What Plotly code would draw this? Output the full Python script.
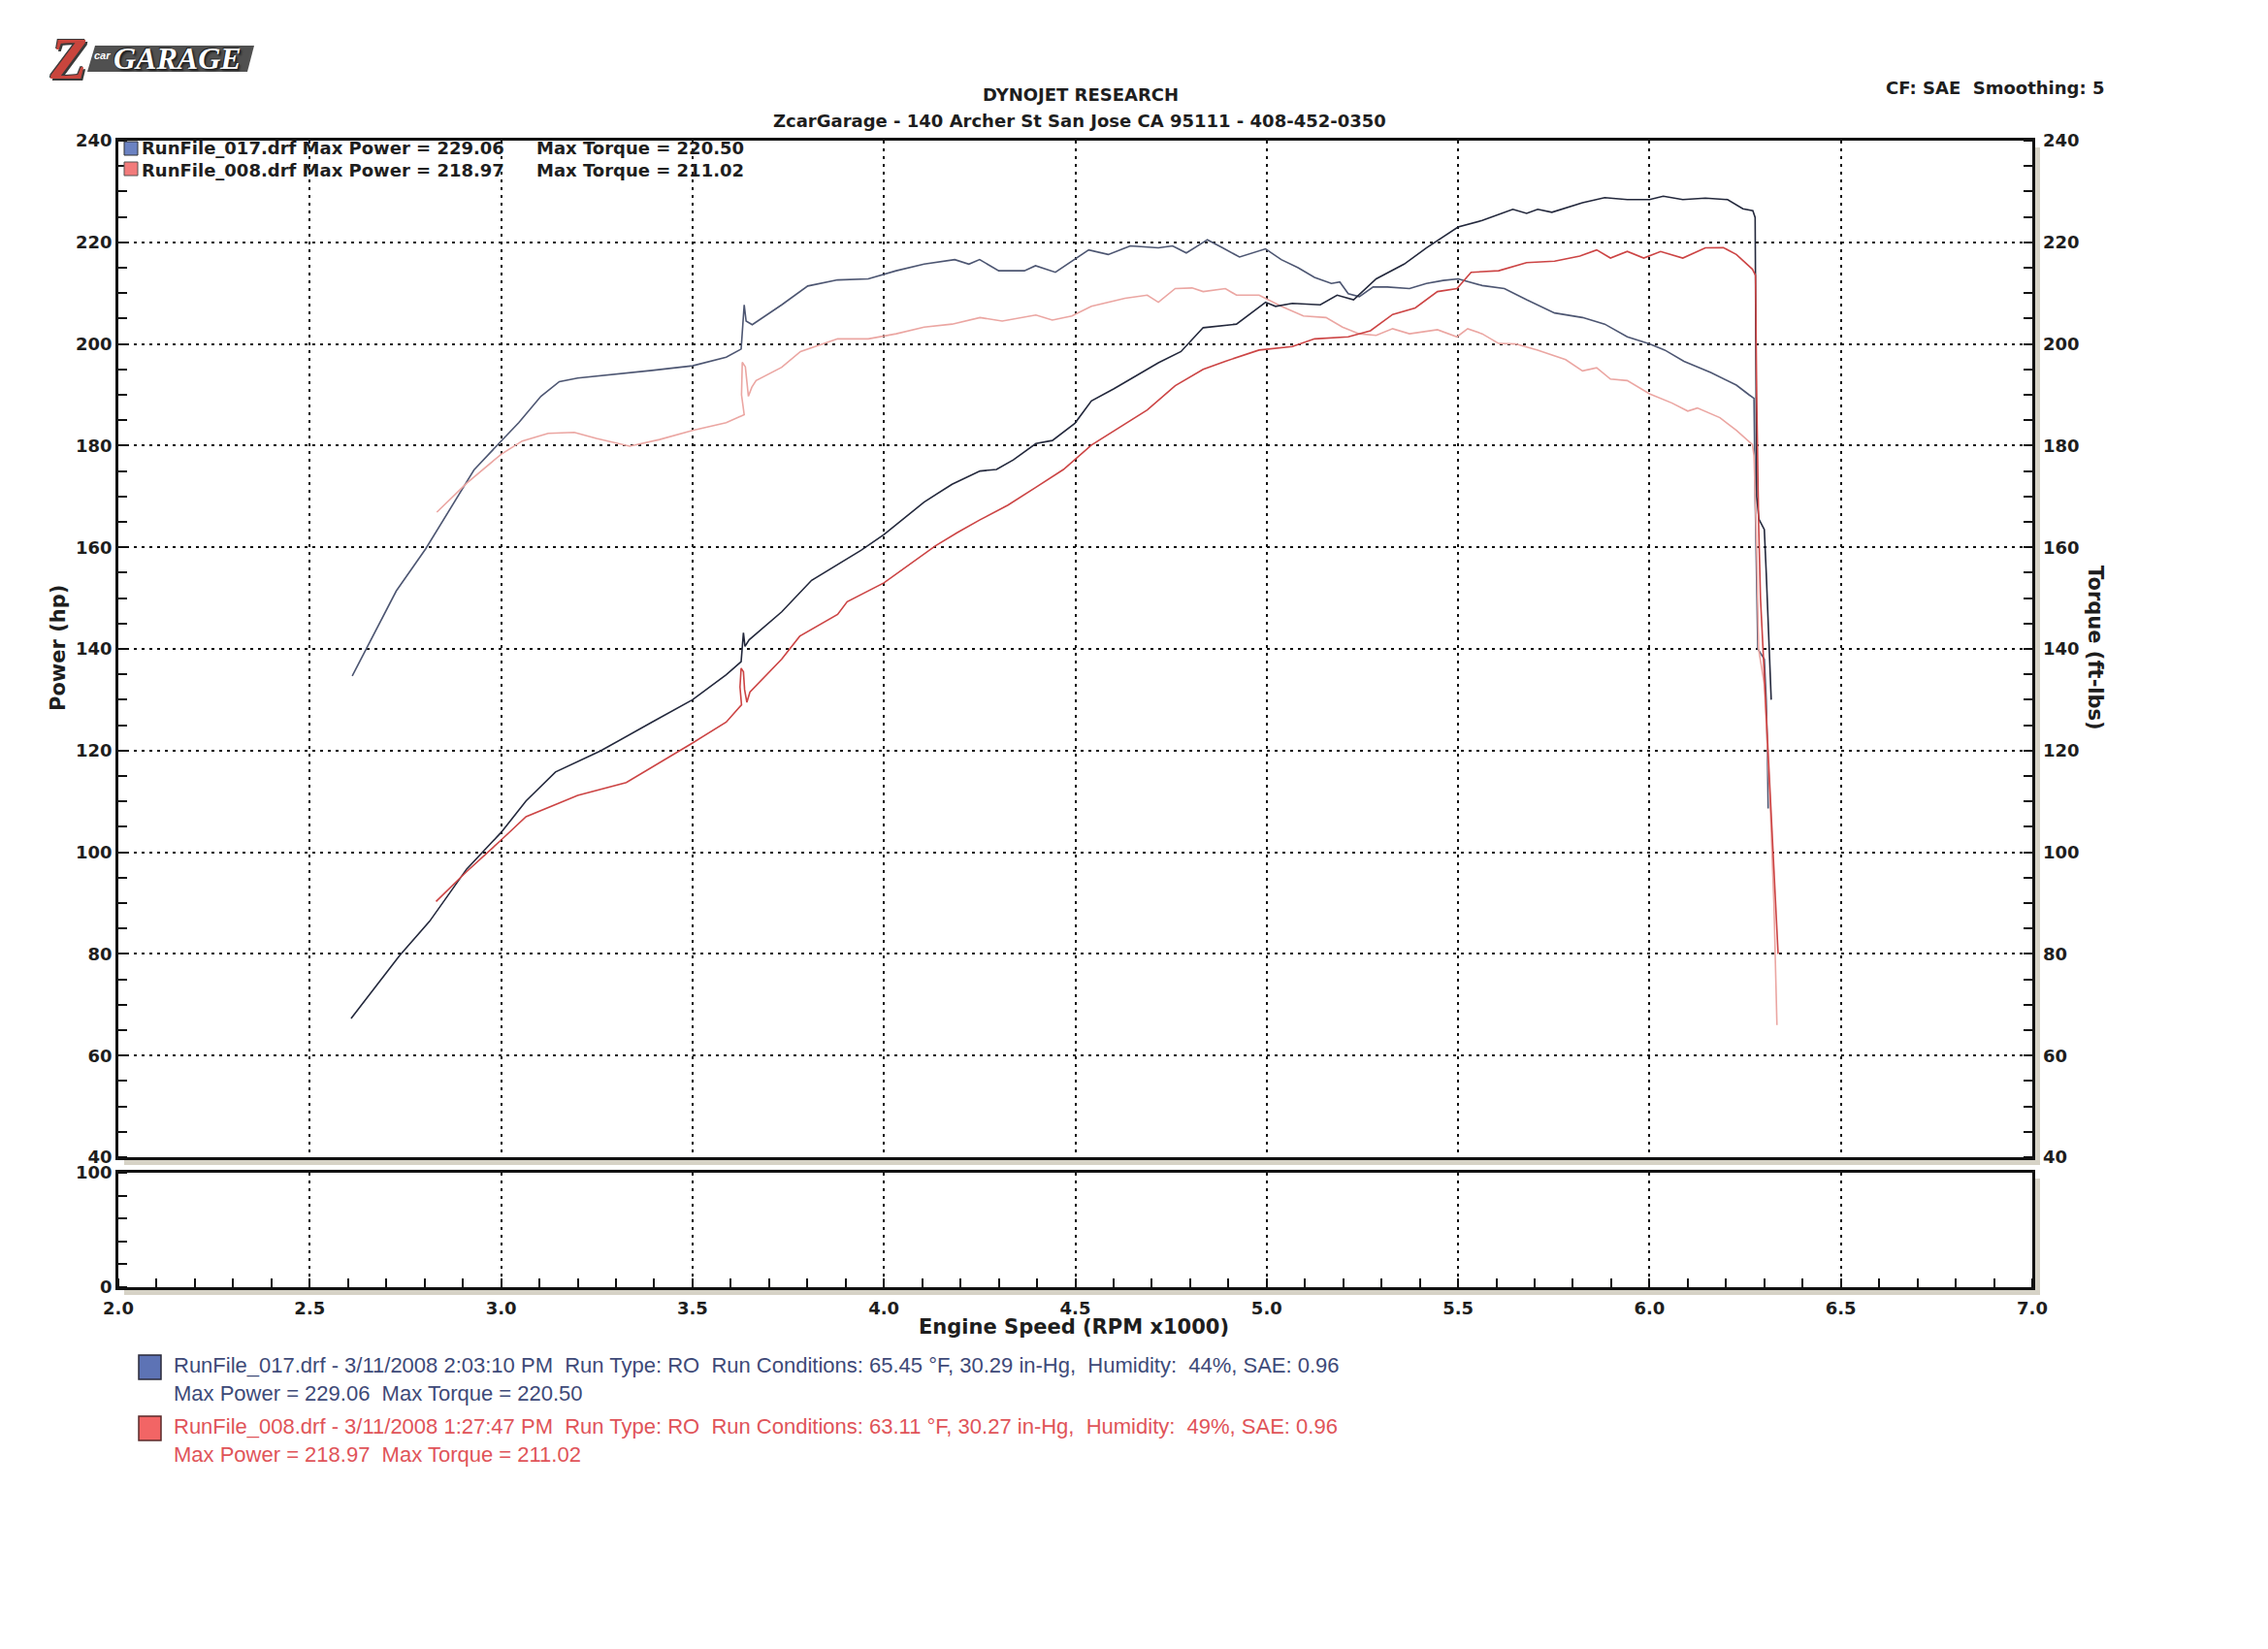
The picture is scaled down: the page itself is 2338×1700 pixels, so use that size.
import plotly.graph_objects as go

# ---------------- data (RPM x1000, hp / ft-lbs) ----------------
rpm_pwr_017 = [2.608, 2.735, 2.813, 2.91, 3.0, 3.065, 3.142, 3.259, 3.394, 3.5, 3.588, 3.627, 3.633, 3.637, 3.648,
               3.733, 3.811, 3.879, 3.94, 4.0, 4.105, 4.178, 4.251, 4.294, 4.338, 4.397, 4.44, 4.499, 4.542, 4.601,
               4.659, 4.717, 4.776, 4.834, 4.921, 4.997, 5.023, 5.067, 5.14, 5.184, 5.227, 5.286, 5.359, 5.417, 5.5,
               5.563, 5.643, 5.679, 5.708, 5.745, 5.825, 5.883, 5.942, 6.0, 6.036, 6.087, 6.146, 6.204, 6.244, 6.27,
               6.276, 6.278, 6.28, 6.286, 6.3, 6.305, 6.31, 6.315, 6.318]
pwr_017 = [67.3, 79.7, 86.4, 96.7, 103.9, 110.1, 115.8, 119.9, 125.6, 130, 134.9, 137.5, 143.2, 140.5, 141.8,
           147.3, 153.5, 156.6, 159.4, 162.5, 168.9, 172.4, 175, 175.3, 177.2, 180.4, 181, 184.4, 188.8, 191.2,
           193.7, 196.3, 198.5, 203.2, 203.9, 208.2, 207.4, 208, 207.7, 209.6, 208.7, 212.8, 215.7, 218.9, 223,
           224.3, 226.5, 225.7, 226.5, 225.9, 227.8, 228.8, 228.4, 228.4, 229.06, 228.4, 228.7, 228.4, 226.6, 226.2,
           224.9, 200, 170, 165.5, 163.5, 155, 145, 135, 130]

rpm_trq_017 = [2.611, 2.648, 2.726, 2.803, 2.861, 2.929, 3.0, 3.046, 3.104, 3.152, 3.2, 3.297, 3.394, 3.5, 3.588,
               3.627, 3.635, 3.64, 3.656, 3.733, 3.801, 3.879, 3.959, 4.032, 4.105, 4.185, 4.222, 4.25, 4.3, 4.367,
               4.396, 4.448, 4.499, 4.535, 4.586, 4.644, 4.717, 4.754, 4.79, 4.845, 4.885, 4.929, 4.997, 5.038, 5.082,
               5.125, 5.169, 5.191, 5.213, 5.242, 5.278, 5.315, 5.373, 5.417, 5.461, 5.5, 5.563, 5.621, 5.679, 5.752,
               5.825, 5.883, 5.942, 6.0, 6.04, 6.09, 6.16, 6.227, 6.26, 6.273, 6.276, 6.28, 6.283, 6.3, 6.305, 6.308,
               6.31]
trq_017 = [134.7, 140.1, 151.4, 159.7, 166.9, 175.2, 180.9, 184.5, 189.7, 192.6, 193.3, 194, 194.8, 195.7, 197.4,
           199, 207.7, 204.5, 203.8, 207.7, 211.4, 212.6, 212.8, 214.4, 215.7, 216.6, 215.7, 216.6, 214.4, 214.4,
           215.4, 214.1, 216.6, 218.5, 217.6, 219.3, 218.9, 219.3, 217.9, 220.5, 218.9, 217.1, 218.7, 216.6, 215,
           213.1, 211.9, 212.2, 209.9, 209.3, 211.2, 211.2, 210.9, 211.9, 212.5, 212.8, 211.5, 210.9, 208.7, 206.1,
           205.2, 203.9, 201.4, 200, 198.8, 196.6, 194.4, 191.9, 190, 189.3, 170, 150, 140, 138, 130, 120,
           108.6]

rpm_pwr_008 = [2.83, 2.91, 3.0, 3.065, 3.2, 3.327, 3.5, 3.588, 3.628, 3.624, 3.627, 3.633, 3.636, 3.642, 3.65,
               3.733, 3.78, 3.879, 3.904, 4.0, 4.135, 4.192, 4.251, 4.324, 4.397, 4.469, 4.542, 4.615, 4.688, 4.761,
               4.834, 4.892, 4.98, 5.067, 5.125, 5.213, 5.271, 5.329, 5.388, 5.446, 5.497, 5.534, 5.606, 5.679, 5.752,
               5.818, 5.862, 5.898, 5.942, 5.985, 6.029, 6.087, 6.146, 6.193, 6.227, 6.269, 6.277, 6.28, 6.285, 6.29,
               6.3, 6.31, 6.32, 6.33, 6.336]
pwr_008 = [90.3, 96.2, 102.4, 107, 111.2, 113.7, 121.5, 125.6, 129.0, 132.5, 136.2, 135.5, 132, 129.5, 131.5,
           138, 142.5, 146.8, 149.3, 153, 160.3, 162.9, 165.4, 168.3, 171.8, 175.3, 180.1, 183.5, 187, 191.8,
           195, 196.6, 198.8, 199.5, 201, 201.4, 202.6, 205.8, 207.1, 210.3, 210.9, 214.1, 214.4, 216, 216.3,
           217.3, 218.5, 216.9, 218.2, 216.9, 218.2, 216.9, 218.9, 218.97, 217.6, 214.7, 213.5, 190, 165, 150,
           135, 120, 105, 90, 80]

rpm_trq_008 = [2.832, 2.91, 3.0, 3.055, 3.123, 3.191, 3.249, 3.336, 3.414, 3.5, 3.588, 3.635, 3.628, 3.63, 3.638,
               3.643, 3.646, 3.655, 3.666, 3.733, 3.782, 3.879, 3.959, 4.032, 4.105, 4.178, 4.251, 4.309, 4.397, 4.44,
               4.491, 4.542, 4.63, 4.688, 4.717, 4.761, 4.805, 4.834, 4.892, 4.921, 4.98, 5.038, 5.096, 5.155, 5.198,
               5.242, 5.286, 5.329, 5.373, 5.446, 5.497, 5.525, 5.563, 5.606, 5.65, 5.708, 5.781, 5.825, 5.862, 5.898,
               5.942, 6.0, 6.058, 6.1, 6.125, 6.184, 6.227, 6.269, 6.273, 6.28, 6.285, 6.3, 6.315, 6.325, 6.333]
trq_008 = [166.9, 172.6, 178.3, 180.9, 182.4, 182.6, 181.4, 179.9, 181.2, 183, 184.5, 186.1, 190, 196.4, 195.5,
           191, 189.7, 191.5, 192.8, 195.4, 198.5, 201, 201, 202, 203.3, 203.9, 205.2, 204.5, 205.7, 204.7,
           205.5, 207.4, 209, 209.6, 208.2, 210.9, 211.02, 210.3, 210.9, 209.6, 209.6, 207.4, 205.5, 205.2, 203.3,
           202, 201.7, 203, 202, 202.8, 201.4, 203, 202, 200.1, 200, 198.8, 196.9, 194.7, 195.3, 193.1,
           192.8, 190.2, 188.4, 186.8, 187.4, 185.5, 183, 180.2, 178, 160, 140, 133, 110, 90, 66]

x_ticks = [2.0, 2.5, 3.0, 3.5, 4.0, 4.5, 5.0, 5.5, 6.0, 6.5, 7.0]
y_ticks = [40, 60, 80, 100, 120, 140, 160, 180, 200, 220, 240]

legend_017 = ("RunFile_017.drf - 3/11/2008 2:03:10 PM  Run Type: RO  Run Conditions: 65.45 °F, 30.29 in-Hg,  "
              "Humidity:  44%, SAE: 0.96<br>Max Power = 229.06  Max Torque = 220.50")
legend_008 = ("RunFile_008.drf - 3/11/2008 1:27:47 PM  Run Type: RO  Run Conditions: 63.11 °F, 30.27 in-Hg,  "
              "Humidity:  49%, SAE: 0.96<br>Max Power = 218.97  Max Torque = 211.02")

# ---------------- geometry helpers (page px -> paper) ----------------
W, H = 2338, 1700
OFF = 8                      # page body margin of the html output
L, R, T, B = 122, 2095, 145, 1327   # plot area in page pixels


def PX(x):
    return (x - L) / (R - L)


def PY(y):
    return (B - y) / (B - T)


up_bottom = PY(1193)
lo_top = PY(1209)

BLUE_P = "#23283c"
BLUE_T = "#4d5672"
RED_P = "#cc4444"
RED_T = "#eba6a2"
TICKFONT = dict(family="DejaVu Sans", size=18, color="#1e1e1e", weight="bold")
GRIDDASH = "3px,5px"

fig = go.Figure()
fig.add_trace(go.Scatter(x=rpm_trq_017, y=trq_017, mode="lines", line=dict(color=BLUE_T, width=1.6),
                         xaxis="x2", yaxis="y", showlegend=False))
fig.add_trace(go.Scatter(x=rpm_trq_008, y=trq_008, mode="lines", line=dict(color=RED_T, width=1.6),
                         xaxis="x2", yaxis="y", showlegend=False))
fig.add_trace(go.Scatter(x=rpm_pwr_017, y=pwr_017, mode="lines", line=dict(color=BLUE_P, width=1.6),
                         xaxis="x2", yaxis="y", showlegend=False))
fig.add_trace(go.Scatter(x=rpm_pwr_008, y=pwr_008, mode="lines", line=dict(color=RED_P, width=1.6),
                         xaxis="x2", yaxis="y", showlegend=False))
fig.add_trace(go.Scatter(x=[2, 7], y=[40, 240], mode="lines", line=dict(width=0), opacity=0,
                         xaxis="x2", yaxis="y3", showlegend=False, hoverinfo="skip"))
fig.add_trace(go.Scatter(x=[2, 7], y=[0, 0], mode="lines", line=dict(width=0), opacity=0,
                         xaxis="x", yaxis="y2", showlegend=False, hoverinfo="skip"))

common_x = dict(range=[2, 7], tickvals=x_ticks, showgrid=True, gridcolor="#111", gridwidth=1.5,
                griddash=GRIDDASH, showline=True, linecolor="#111", linewidth=2.5, mirror=True,
                zeroline=False, ticks="", automargin=False)

fig.update_layout(
    width=W, height=H,
    paper_bgcolor="white", plot_bgcolor="rgba(0,0,0,0)",
    margin=dict(l=L - OFF, r=W - (R - OFF), t=T - OFF, b=H - (B - OFF)),
    xaxis=dict(**common_x, anchor="y2", domain=[0, 1], tickformat=".1f", tickfont=TICKFONT,
               ticklabelstandoff=4,
               minor=dict(dtick=0.1, ticks="inside", ticklen=9, tickcolor="#111", tickwidth=1.5, showgrid=False)),
    xaxis2=dict(**common_x, anchor="y", domain=[0, 1], matches="x", showticklabels=False),
    yaxis=dict(domain=[up_bottom, 1], range=[40, 240], tickvals=y_ticks, showgrid=True, gridcolor="#111",
               gridwidth=1.5, griddash=GRIDDASH, showline=True, linecolor="#111", linewidth=2.5, mirror=True,
               zeroline=False, ticks="", tickfont=TICKFONT, anchor="x2", automargin=False,
               minor=dict(dtick=5, ticks="inside", ticklen=9, tickcolor="#111", tickwidth=1.5, showgrid=False)),
    yaxis3=dict(overlaying="y", side="right", anchor="x2", range=[40, 240], tickvals=y_ticks, showgrid=False,
                zeroline=False, ticks="", tickfont=TICKFONT, showline=False, automargin=False,
                ticklabelstandoff=10,
                minor=dict(dtick=5, ticks="inside", ticklen=9, tickcolor="#111", tickwidth=1.5)),
    yaxis2=dict(domain=[0, lo_top], range=[0, 100], tickvals=[0, 100], showgrid=False, showline=True,
                linecolor="#111", linewidth=2.5, mirror=True, zeroline=False, ticks="", tickfont=TICKFONT,
                anchor="x", automargin=False,
                minor=dict(dtick=20, ticks="inside", ticklen=9, tickcolor="#111", tickwidth=1.5)),
)

SH = "#d6d2c6"
shapes = [
    dict(type="rect", xref="paper", yref="paper", x0=PX(128), x1=PX(2102), y0=PY(1201), y1=PY(1194.5),
         fillcolor=SH, line=dict(width=0), layer="below"),
    dict(type="rect", xref="paper", yref="paper", x0=PX(2096.5), x1=PX(2103), y0=PY(1201), y1=PY(152),
         fillcolor=SH, line=dict(width=0), layer="below"),
    dict(type="rect", xref="paper", yref="paper", x0=PX(128), x1=PX(2102), y0=PY(1335), y1=PY(1328.5),
         fillcolor=SH, line=dict(width=0), layer="below"),
    dict(type="rect", xref="paper", yref="paper", x0=PX(2096.5), x1=PX(2103), y0=PY(1335), y1=PY(1215),
         fillcolor=SH, line=dict(width=0), layer="below"),
    dict(type="rect", xref="paper", yref="paper", x0=PX(128), x1=PX(142), y0=PY(160), y1=PY(146),
         fillcolor="#6b82c2", line=dict(width=1, color="#333")),
    dict(type="rect", xref="paper", yref="paper", x0=PX(128), x1=PX(142), y0=PY(181), y1=PY(167),
         fillcolor="#f27b7b", line=dict(width=1, color="#555")),
    dict(type="rect", xref="paper", yref="paper", x0=PX(143), x1=PX(166), y0=PY(1422), y1=PY(1397),
         fillcolor="#5d73b5", line=dict(width=1.5, color="#2a2a3a")),
    dict(type="rect", xref="paper", yref="paper", x0=PX(143), x1=PX(166), y0=PY(1485), y1=PY(1460),
         fillcolor="#f26565", line=dict(width=1.5, color="#5a2a2a")),
    dict(type="path", xref="paper", yref="paper",
         path=f"M {PX(98)} {PY(47)} L {PX(262)} {PY(47)} L {PX(255)} {PY(74)} L {PX(90)} {PY(74)} Z",
         fillcolor="#505050", line=dict(width=0)),
]
fig.update_layout(shapes=shapes)

HDR = dict(family="DejaVu Sans", size=18, color="#1e1e1e", weight="bold")
AX = dict(family="DejaVu Sans", size=21, color="#1e1e1e", weight="bold")
ann = []


def A(text, x, y, xanchor="center", yanchor="middle", font=None, textangle=0, align="left"):
    ann.append(dict(text=text, x=PX(x), y=PY(y), xref="paper", yref="paper", showarrow=False,
                    xanchor=xanchor, yanchor=yanchor, font=font or HDR, textangle=textangle, align=align))


A("DYNOJET RESEARCH", 1114, 97)
A("ZcarGarage - 140 Archer St San Jose CA 95111 - 408-452-0350", 1113, 124)
A("CF: SAE  Smoothing: 5", 2171, 91, xanchor="right")
A("RunFile_017.drf Max Power = 229.06", 144, 153, xanchor="left")
A("Max Torque = 220.50", 551, 153, xanchor="left")
A("RunFile_008.drf Max Power = 218.97", 144, 176, xanchor="left")
A("Max Torque = 211.02", 551, 176, xanchor="left")
A("Engine Speed (RPM x1000)", 1107, 1368, font=AX)
A("Power (hp)", 60, 668, font=AX, textangle=-90)
A("Torque (ft-lbs)", 2160, 668, font=AX, textangle=90)
A(legend_017, 177, 1422, xanchor="left", font=dict(family="Liberation Sans", size=22, color="#3e4a78"))
A(legend_008, 177, 1485, xanchor="left", font=dict(family="Liberation Sans", size=22, color="#e05459"))

# logo texts
A("Z", 70, 60, font=dict(family="Liberation Serif", size=62, color="#c9453d", weight="bold", style="italic",
                          shadow="2px 2px 0px #3a3a3a, -1px -1px 0px #3a3a3a"))
A("car", 105, 57, font=dict(family="Liberation Sans", size=11, color="white", weight="bold", style="italic"))
A("GARAGE", 183, 60, font=dict(family="Liberation Serif", size=32, color="white", weight="bold", style="italic",
                               shadow="1px 1px 0px #222, -1px -1px 0px #222, 2px 2px 2px #222"))
fig.update_layout(annotations=ann)

fig.write_html("out.html")
